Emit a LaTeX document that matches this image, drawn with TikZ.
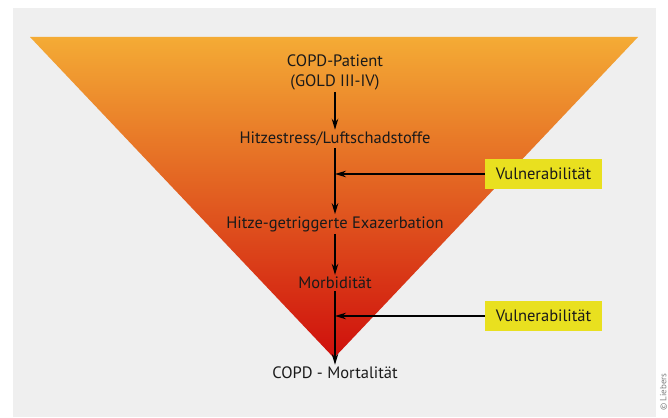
\documentclass[tikz,border=0pt]{standalone}
\usepackage{fontspec}
\setmainfont{PT Sans}
\usepackage{tikz}
\usetikzlibrary{arrows.meta, positioning, calc}
\definecolor{copdBack}{HTML}{EFEFEF}
\definecolor{copdTop}{HTML}{F4AB35}
\definecolor{copdMid}{HTML}{E4662A}
\definecolor{copdRed}{HTML}{CF0F0C}
\definecolor{copdVul}{HTML}{E9E01F}
\definecolor{copdText}{HTML}{1A1A1A}

\begin{document}
\begin{tikzpicture}[x=1pt, y=-1pt, >=Stealth,
    font=\fontsize{16.5}{20}\selectfont,
    stage/.style={text=copdText, align=center, inner sep=2pt},
    vul/.style={fill=copdVul, text=copdText, minimum width=117pt, minimum height=30pt, inner sep=0pt},
    flow/.style={-{Stealth[length=11pt, width=6.5pt]}, line width=1.5pt, draw=black}]

  \useasboundingbox (0,0) rectangle (668,417);
  \fill[white] (0,0) rectangle (668,417);
  \fill[copdBack] (13,8) rectangle (656,417);

  % funnel
  \shade[top color=copdTop, middle color=copdMid, bottom color=copdRed]
    (30,37) -- (638,37) -- (334,358) -- cycle;

  \node[stage] (pat) at (335,72)  {COPD-Patient\\(GOLD III-IV)};
  \node[stage] (hit) at (335,139) {Hitzestress/Luftschadstoffe};
  \node[stage] (exa) at (335,224) {Hitze-getriggerte Exazerbation};
  \node[stage] (mor) at (335,283) {Morbidität};
  \node[stage] (mort) at (335,373) {COPD - Mortalität};

  \node[vul] (v1) at (543.5,174) {Vulnerabilität};
  \node[vul] (v2) at (543.5,316) {Vulnerabilität};

  \foreach \a/\b in {pat/hit,hit/exa,exa/mor,mor/mort} {
    \draw[flow] (\a) -- (\b);
  }
  \draw[flow] (v1.west) -- (v1.west -| hit.south);
  \draw[flow] (v2.west) -- (v2.west -| mor.south);

  \node[rotate=90, anchor=south west, text=gray, font=\fontsize{9}{10}\selectfont, inner sep=0pt] (copy) at (667,411) {© Liebers};
\end{tikzpicture}
\end{document}
